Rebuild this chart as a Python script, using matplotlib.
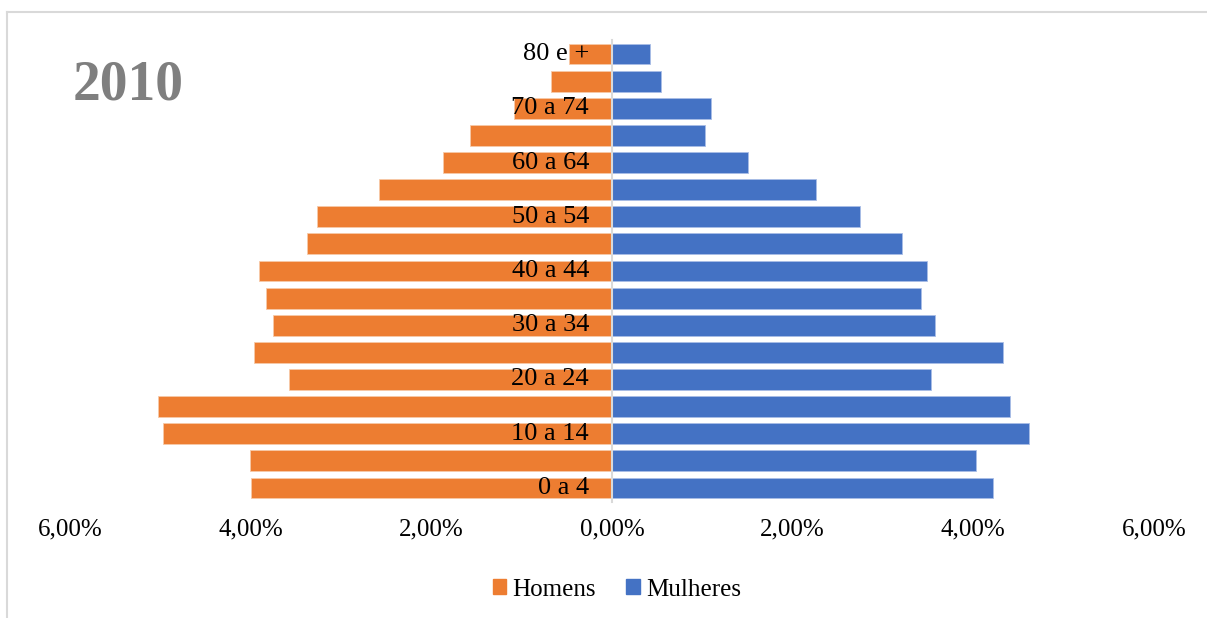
import matplotlib.pyplot as plt
import matplotlib.transforms as mtransforms
from matplotlib.lines import Line2D
from matplotlib.patches import Patch

# faixas etarias, de baixo para cima
faixas = ['0 a 4', '5 a 9', '10 a 14', '15 a 19', '20 a 24', '25 a 29',
          '30 a 34', '35 a 39', '40 a 44', '45 a 49', '50 a 54', '55 a 59',
          '60 a 64', '65 a 69', '70 a 74', '75 a 79', '80 e +']
homens = [4.00, 4.01, 4.97, 5.03, 3.58, 3.96, 3.76, 3.83, 3.91, 3.38,
          3.27, 2.58, 1.87, 1.57, 1.09, 0.68, 0.48]
mulheres = [4.22, 4.03, 4.62, 4.41, 3.53, 4.33, 3.58, 3.42, 3.49, 3.21,
            2.74, 2.26, 1.50, 1.03, 1.09, 0.54, 0.42]
ticks = [-6, -4, -2, 0, 2, 4, 6]
ano = '2010'

laranja = '#ED7D31'
azul = '#4472C4'
serif = ['Liberation Serif', 'DejaVu Serif']

fig = plt.figure(figsize=(12.07, 6.18), dpi=100)
ax = fig.add_axes([0.0582, 0.1885, 0.8978, 0.746])

y = list(range(len(faixas)))
ax.barh(y, [-v for v in homens], height=0.77, color=laranja,
        edgecolor='#f7c9a8', linewidth=0.6, zorder=2)
ax.barh(y, mulheres, height=0.77, color=azul,
        edgecolor='#a9bde6', linewidth=0.6, zorder=2)

ax.set_xlim(-6, 6)
ax.set_ylim(-0.5, len(faixas) - 0.5)

for s in ['top', 'right', 'bottom']:
    ax.spines[s].set_visible(False)
ax.spines['left'].set_position(('data', 0))
ax.spines['left'].set_color('#d9d9d9')
ax.spines['left'].set_linewidth(1.5)
ax.spines['left'].set_zorder(3)

# rotulos das faixas por cima das barras, uma sim outra nao
ax.set_yticks([])
trans = mtransforms.offset_copy(ax.transData, fig=fig, x=-23, y=0,
                                units='dots')
for i, f in enumerate(faixas):
    if i % 2 == 0:
        ax.text(0, i, f, transform=trans, ha='right', va='center',
                fontsize=19, family=serif, zorder=5)

ax.set_xticks(ticks)
ax.set_xticklabels([('%.2f%%' % abs(t)).replace('.', ',') for t in ticks],
                   fontsize=18, family=serif)
ax.xaxis.set_tick_params(length=0, pad=12)

fig.text(0.06, 0.862, ano, fontsize=40, fontweight='bold', color='#7f7f7f',
         family=serif, va='center', ha='left')

handles = [Patch(color=laranja, label='Homens'),
           Patch(color=azul, label='Mulheres')]
fig.legend(handles=handles, loc='center', bbox_to_anchor=(0.511, 0.046),
           ncol=2, frameon=False, prop={'family': serif, 'size': 18},
           handlelength=0.55, handleheight=0.55, handletextpad=0.25,
           columnspacing=1.2)

# moldura cinza (so topo e esquerda aparecem)
fig.add_artist(Line2D([7 / 1207, 1], [1 - 12 / 618, 1 - 12 / 618],
                      transform=fig.transFigure, color='#d9d9d9', lw=1.5))
fig.add_artist(Line2D([7 / 1207, 7 / 1207], [0, 1 - 12 / 618],
                      transform=fig.transFigure, color='#d9d9d9', lw=1.5))

fig.savefig('out.png', dpi=100)
